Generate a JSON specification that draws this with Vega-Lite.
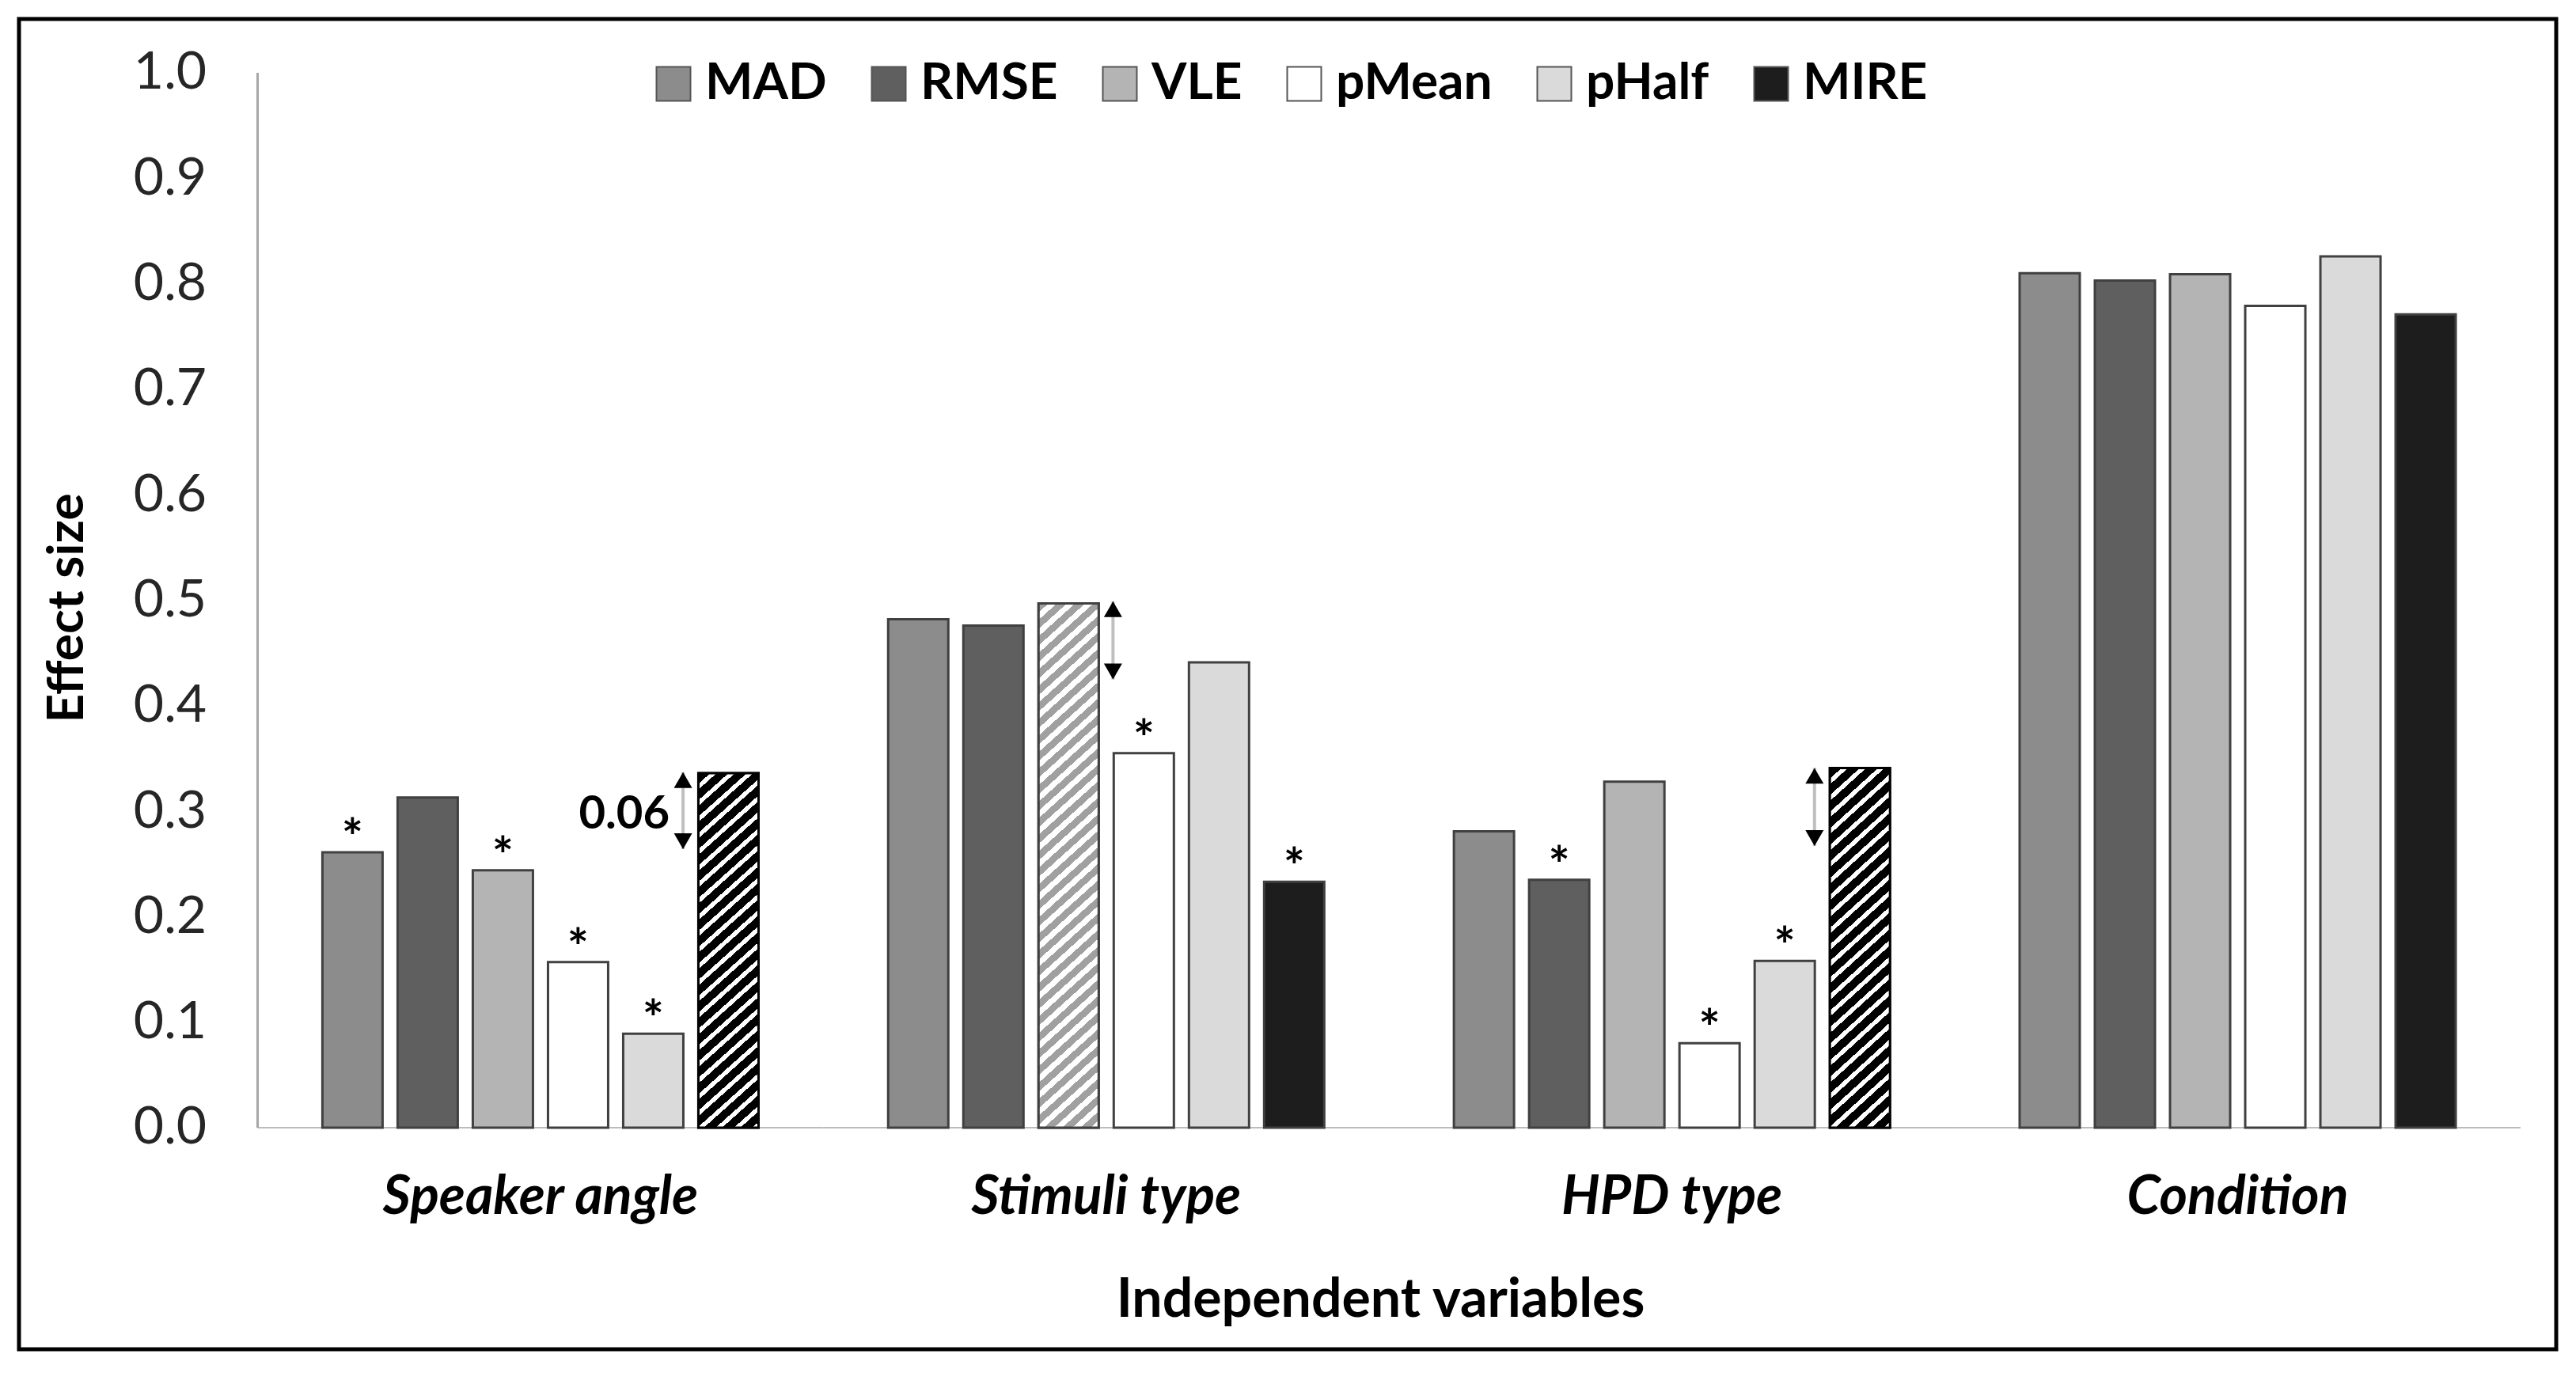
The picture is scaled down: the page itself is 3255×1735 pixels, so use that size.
{
  "$schema": "https://vega.github.io/schema/vega-lite/v6.json",
  "width": 3206,
  "height": 1681,
  "autosize": {"type": "none"},
  "padding": {"left": 24, "top": 24, "right": 25, "bottom": 30},
  "background": "white",
  "datasets": {
    "bars": [
      {"variable": "Speaker angle", "method": "MAD", "value": 0.261, "sig": true},
      {"variable": "Speaker angle", "method": "RMSE", "value": 0.313, "sig": false},
      {"variable": "Speaker angle", "method": "VLE", "value": 0.244, "sig": true},
      {"variable": "Speaker angle", "method": "pMean", "value": 0.157, "sig": true},
      {"variable": "Speaker angle", "method": "pHalf", "value": 0.089, "sig": true},
      {"variable": "Speaker angle", "method": "MIRE", "value": 0.336, "sig": false},
      {"variable": "Stimuli type", "method": "MAD", "value": 0.482, "sig": false},
      {"variable": "Stimuli type", "method": "RMSE", "value": 0.476, "sig": false},
      {"variable": "Stimuli type", "method": "VLE", "value": 0.497, "sig": false},
      {"variable": "Stimuli type", "method": "pMean", "value": 0.355, "sig": true},
      {"variable": "Stimuli type", "method": "pHalf", "value": 0.441, "sig": false},
      {"variable": "Stimuli type", "method": "MIRE", "value": 0.233, "sig": true},
      {"variable": "HPD type", "method": "MAD", "value": 0.281, "sig": false},
      {"variable": "HPD type", "method": "RMSE", "value": 0.235, "sig": true},
      {"variable": "HPD type", "method": "VLE", "value": 0.328, "sig": false},
      {"variable": "HPD type", "method": "pMean", "value": 0.080, "sig": true},
      {"variable": "HPD type", "method": "pHalf", "value": 0.158, "sig": true},
      {"variable": "HPD type", "method": "MIRE", "value": 0.341, "sig": false},
      {"variable": "Condition", "method": "MAD", "value": 0.810, "sig": false},
      {"variable": "Condition", "method": "RMSE", "value": 0.803, "sig": false},
      {"variable": "Condition", "method": "VLE", "value": 0.809, "sig": false},
      {"variable": "Condition", "method": "pMean", "value": 0.779, "sig": false},
      {"variable": "Condition", "method": "pHalf", "value": 0.826, "sig": false},
      {"variable": "Condition", "method": "MIRE", "value": 0.771, "sig": false}
    ],
    "arrows": [
      {"variable": "Speaker angle", "top": 0.337, "bottom": 0.264, "label": "0.06"},
      {"variable": "Stimuli type", "top": 0.499, "bottom": 0.425, "label": ""},
      {"variable": "HPD type", "top": 0.341, "bottom": 0.267, "label": ""}
    ]
  },
  "layer": [
    {
      "data": {"values": [{}]},
      "mark": {"type": "rule", "color": "#a6a6a6", "strokeWidth": 3},
      "encoding": {
        "x": {"datum": "Speaker angle", "type": "nominal", "bandPosition": 0},
        "y": {"datum": 0, "type": "quantitative"},
        "y2": {"datum": 1}
      }
    },
    {
      "data": {"name": "bars"},
      "transform": [{"aggregate": [{"op": "count", "as": "n"}], "groupby": ["variable"]}],
      "mark": {"type": "bar", "fill": "transparent", "stroke": "#a6a6a6", "strokeWidth": 1.5},
      "encoding": {
        "x": {"field": "variable", "type": "nominal"},
        "y": {"datum": 0, "type": "quantitative"},
        "y2": {"datum": 0}
      }
    },
    {
      "data": {"name": "bars"},
      "mark": {"type": "bar", "stroke": "#404040", "strokeWidth": 3},
      "encoding": {
        "x": {
          "field": "variable",
          "type": "nominal",
          "scale": {
            "domain": ["Speaker angle", "Stimuli type", "HPD type", "Condition"],
            "paddingInner": 0,
            "paddingOuter": 0.2424,
            "align": 0.87
          },
          "axis": {
            "orient": "bottom",
            "offset": -280,
            "domain": false,
            "ticks": false,
            "tickSize": 0,
            "labelPadding": 88,
            "labelAngle": 0,
            "labelAlign": "center",
            "labelLimit": 0,
            "labelFont": "Lato",
            "labelFontSize": 68,
            "labelFontWeight": "bold",
            "labelFontStyle": "italic",
            "labelColor": "#000000",
            "title": "Independent variables",
            "titleFont": "Lato",
            "titleFontSize": 68,
            "titleFontWeight": "bold",
            "titleColor": "#000000",
            "titleX": 1720,
            "titleY": 238,
            "titleAlign": "center",
            "titleBaseline": "alphabetic"
          }
        },
        "xOffset": {
          "field": "method",
          "type": "nominal",
          "scale": {
            "domain": ["MAD", "RMSE", "VLE", "pMean", "pHalf", "MIRE"],
            "paddingInner": 0.2,
            "paddingOuter": 0.862
          }
        },
        "y": {
          "field": "value",
          "type": "quantitative",
          "scale": {"domain": [-0.2101, 1.051], "nice": false, "zero": false},
          "axis": {
            "orient": "left",
            "offset": -301.5,
            "values": [0, 0.1, 0.2, 0.3, 0.4, 0.5, 0.6, 0.7, 0.8, 0.9, 1.0],
            "format": ".1f",
            "domain": false,
            "ticks": false,
            "tickSize": 0,
            "grid": false,
            "labelPadding": 65,
            "labelFont": "Lato",
            "labelFontSize": 66,
            "labelColor": "#262626",
            "title": "Effect size",
            "titleFont": "Lato",
            "titleFontSize": 64,
            "titleFontWeight": "bold",
            "titleColor": "#000000",
            "titleAngle": 270,
            "titleX": -221,
            "titleY": 744,
            "titleAlign": "center",
            "titleBaseline": "alphabetic"
          }
        },
        "y2": {"datum": 0},
        "color": {
          "field": "method",
          "type": "nominal",
          "scale": {
            "domain": ["MAD", "RMSE", "VLE", "pMean", "pHalf", "MIRE"],
            "range": ["#8c8c8c", "#5f5f5f", "#b4b4b4", "#ffffff", "#dadada", "#1d1d1d"]
          },
          "legend": {
            "orient": "none",
            "legendX": 795,
            "legendY": 50,
            "direction": "horizontal",
            "title": null,
            "padding": 0,
            "symbolType": "square",
            "symbolSize": 1849,
            "symbolStrokeColor": "#555555",
            "symbolStrokeWidth": 2,
            "symbolOpacity": 1,
            "labelFont": "Lato",
            "labelFontSize": 64,
            "labelFontWeight": "bold",
            "labelColor": "#000000",
            "labelLimit": 0,
            "labelOffset": 8,
            "columnPadding": 46
          }
        }
      }
    },
    {
      "data": {"name": "bars"},
      "transform": [{"filter": "datum.method == 'MIRE' && (datum.variable == 'Speaker angle' || datum.variable == 'HPD type')"}],
      "mark": {
        "type": "bar",
        "stroke": "#000000",
        "strokeWidth": 3,
        "fill": {
          "gradient": "linear",
          "x1": 0, "y1": 0, "x2": 0.171, "y2": 1.126,
          "stops": [
            {"offset": 0, "color": "#000000"}, {"offset": 0.026, "color": "#000000"}, {"offset": 0.026, "color": "#ffffff"}, {"offset": 0.04, "color": "#ffffff"},
            {"offset": 0.04, "color": "#000000"}, {"offset": 0.066, "color": "#000000"}, {"offset": 0.066, "color": "#ffffff"}, {"offset": 0.08, "color": "#ffffff"},
            {"offset": 0.08, "color": "#000000"}, {"offset": 0.106, "color": "#000000"}, {"offset": 0.106, "color": "#ffffff"}, {"offset": 0.12, "color": "#ffffff"},
            {"offset": 0.12, "color": "#000000"}, {"offset": 0.146, "color": "#000000"}, {"offset": 0.146, "color": "#ffffff"}, {"offset": 0.16, "color": "#ffffff"},
            {"offset": 0.16, "color": "#000000"}, {"offset": 0.186, "color": "#000000"}, {"offset": 0.186, "color": "#ffffff"}, {"offset": 0.2, "color": "#ffffff"},
            {"offset": 0.2, "color": "#000000"}, {"offset": 0.226, "color": "#000000"}, {"offset": 0.226, "color": "#ffffff"}, {"offset": 0.24, "color": "#ffffff"},
            {"offset": 0.24, "color": "#000000"}, {"offset": 0.266, "color": "#000000"}, {"offset": 0.266, "color": "#ffffff"}, {"offset": 0.28, "color": "#ffffff"},
            {"offset": 0.28, "color": "#000000"}, {"offset": 0.306, "color": "#000000"}, {"offset": 0.306, "color": "#ffffff"}, {"offset": 0.32, "color": "#ffffff"},
            {"offset": 0.32, "color": "#000000"}, {"offset": 0.346, "color": "#000000"}, {"offset": 0.346, "color": "#ffffff"}, {"offset": 0.36, "color": "#ffffff"},
            {"offset": 0.36, "color": "#000000"}, {"offset": 0.386, "color": "#000000"}, {"offset": 0.386, "color": "#ffffff"}, {"offset": 0.4, "color": "#ffffff"},
            {"offset": 0.4, "color": "#000000"}, {"offset": 0.426, "color": "#000000"}, {"offset": 0.426, "color": "#ffffff"}, {"offset": 0.44, "color": "#ffffff"},
            {"offset": 0.44, "color": "#000000"}, {"offset": 0.466, "color": "#000000"}, {"offset": 0.466, "color": "#ffffff"}, {"offset": 0.48, "color": "#ffffff"},
            {"offset": 0.48, "color": "#000000"}, {"offset": 0.506, "color": "#000000"}, {"offset": 0.506, "color": "#ffffff"}, {"offset": 0.52, "color": "#ffffff"},
            {"offset": 0.52, "color": "#000000"}, {"offset": 0.546, "color": "#000000"}, {"offset": 0.546, "color": "#ffffff"}, {"offset": 0.56, "color": "#ffffff"},
            {"offset": 0.56, "color": "#000000"}, {"offset": 0.586, "color": "#000000"}, {"offset": 0.586, "color": "#ffffff"}, {"offset": 0.6, "color": "#ffffff"},
            {"offset": 0.6, "color": "#000000"}, {"offset": 0.626, "color": "#000000"}, {"offset": 0.626, "color": "#ffffff"}, {"offset": 0.64, "color": "#ffffff"},
            {"offset": 0.64, "color": "#000000"}, {"offset": 0.666, "color": "#000000"}, {"offset": 0.666, "color": "#ffffff"}, {"offset": 0.68, "color": "#ffffff"},
            {"offset": 0.68, "color": "#000000"}, {"offset": 0.706, "color": "#000000"}, {"offset": 0.706, "color": "#ffffff"}, {"offset": 0.72, "color": "#ffffff"},
            {"offset": 0.72, "color": "#000000"}, {"offset": 0.746, "color": "#000000"}, {"offset": 0.746, "color": "#ffffff"}, {"offset": 0.76, "color": "#ffffff"},
            {"offset": 0.76, "color": "#000000"}, {"offset": 0.786, "color": "#000000"}, {"offset": 0.786, "color": "#ffffff"}, {"offset": 0.8, "color": "#ffffff"},
            {"offset": 0.8, "color": "#000000"}, {"offset": 0.826, "color": "#000000"}, {"offset": 0.826, "color": "#ffffff"}, {"offset": 0.84, "color": "#ffffff"},
            {"offset": 0.84, "color": "#000000"}, {"offset": 0.866, "color": "#000000"}, {"offset": 0.866, "color": "#ffffff"}, {"offset": 0.88, "color": "#ffffff"},
            {"offset": 0.88, "color": "#000000"}, {"offset": 0.906, "color": "#000000"}, {"offset": 0.906, "color": "#ffffff"}, {"offset": 0.92, "color": "#ffffff"},
            {"offset": 0.92, "color": "#000000"}, {"offset": 0.946, "color": "#000000"}, {"offset": 0.946, "color": "#ffffff"}, {"offset": 0.96, "color": "#ffffff"},
            {"offset": 0.96, "color": "#000000"}, {"offset": 0.986, "color": "#000000"}, {"offset": 0.986, "color": "#ffffff"}, {"offset": 1, "color": "#ffffff"}
          ]
        }
      },
      "encoding": {
        "x": {"field": "variable", "type": "nominal"},
        "xOffset": {"field": "method", "type": "nominal"},
        "y": {"field": "value", "type": "quantitative"},
        "y2": {"datum": 0}
      }
    },
    {
      "data": {"name": "bars"},
      "transform": [{"filter": "datum.method == 'VLE' && datum.variable == 'Stimuli type'"}],
      "mark": {
        "type": "bar",
        "stroke": "#404040",
        "strokeWidth": 3,
        "fill": {
          "gradient": "linear",
          "x1": 0, "y1": 0, "x2": 0.113, "y2": 1.092,
          "stops": [
            {"offset": 0, "color": "#a0a0a0"}, {"offset": 0.0157, "color": "#a0a0a0"}, {"offset": 0.0157, "color": "#ffffff"}, {"offset": 0.0286, "color": "#ffffff"},
            {"offset": 0.0286, "color": "#a0a0a0"}, {"offset": 0.0443, "color": "#a0a0a0"}, {"offset": 0.0443, "color": "#ffffff"}, {"offset": 0.0571, "color": "#ffffff"},
            {"offset": 0.0571, "color": "#a0a0a0"}, {"offset": 0.0729, "color": "#a0a0a0"}, {"offset": 0.0729, "color": "#ffffff"}, {"offset": 0.0857, "color": "#ffffff"},
            {"offset": 0.0857, "color": "#a0a0a0"}, {"offset": 0.1014, "color": "#a0a0a0"}, {"offset": 0.1014, "color": "#ffffff"}, {"offset": 0.1143, "color": "#ffffff"},
            {"offset": 0.1143, "color": "#a0a0a0"}, {"offset": 0.13, "color": "#a0a0a0"}, {"offset": 0.13, "color": "#ffffff"}, {"offset": 0.1429, "color": "#ffffff"},
            {"offset": 0.1429, "color": "#a0a0a0"}, {"offset": 0.1586, "color": "#a0a0a0"}, {"offset": 0.1586, "color": "#ffffff"}, {"offset": 0.1714, "color": "#ffffff"},
            {"offset": 0.1714, "color": "#a0a0a0"}, {"offset": 0.1871, "color": "#a0a0a0"}, {"offset": 0.1871, "color": "#ffffff"}, {"offset": 0.2, "color": "#ffffff"},
            {"offset": 0.2, "color": "#a0a0a0"}, {"offset": 0.2157, "color": "#a0a0a0"}, {"offset": 0.2157, "color": "#ffffff"}, {"offset": 0.2286, "color": "#ffffff"},
            {"offset": 0.2286, "color": "#a0a0a0"}, {"offset": 0.2443, "color": "#a0a0a0"}, {"offset": 0.2443, "color": "#ffffff"}, {"offset": 0.2571, "color": "#ffffff"},
            {"offset": 0.2571, "color": "#a0a0a0"}, {"offset": 0.2729, "color": "#a0a0a0"}, {"offset": 0.2729, "color": "#ffffff"}, {"offset": 0.2857, "color": "#ffffff"},
            {"offset": 0.2857, "color": "#a0a0a0"}, {"offset": 0.3014, "color": "#a0a0a0"}, {"offset": 0.3014, "color": "#ffffff"}, {"offset": 0.3143, "color": "#ffffff"},
            {"offset": 0.3143, "color": "#a0a0a0"}, {"offset": 0.33, "color": "#a0a0a0"}, {"offset": 0.33, "color": "#ffffff"}, {"offset": 0.3429, "color": "#ffffff"},
            {"offset": 0.3429, "color": "#a0a0a0"}, {"offset": 0.3586, "color": "#a0a0a0"}, {"offset": 0.3586, "color": "#ffffff"}, {"offset": 0.3714, "color": "#ffffff"},
            {"offset": 0.3714, "color": "#a0a0a0"}, {"offset": 0.3871, "color": "#a0a0a0"}, {"offset": 0.3871, "color": "#ffffff"}, {"offset": 0.4, "color": "#ffffff"},
            {"offset": 0.4, "color": "#a0a0a0"}, {"offset": 0.4157, "color": "#a0a0a0"}, {"offset": 0.4157, "color": "#ffffff"}, {"offset": 0.4286, "color": "#ffffff"},
            {"offset": 0.4286, "color": "#a0a0a0"}, {"offset": 0.4443, "color": "#a0a0a0"}, {"offset": 0.4443, "color": "#ffffff"}, {"offset": 0.4571, "color": "#ffffff"},
            {"offset": 0.4571, "color": "#a0a0a0"}, {"offset": 0.4729, "color": "#a0a0a0"}, {"offset": 0.4729, "color": "#ffffff"}, {"offset": 0.4857, "color": "#ffffff"},
            {"offset": 0.4857, "color": "#a0a0a0"}, {"offset": 0.5014, "color": "#a0a0a0"}, {"offset": 0.5014, "color": "#ffffff"}, {"offset": 0.5143, "color": "#ffffff"},
            {"offset": 0.5143, "color": "#a0a0a0"}, {"offset": 0.53, "color": "#a0a0a0"}, {"offset": 0.53, "color": "#ffffff"}, {"offset": 0.5429, "color": "#ffffff"},
            {"offset": 0.5429, "color": "#a0a0a0"}, {"offset": 0.5586, "color": "#a0a0a0"}, {"offset": 0.5586, "color": "#ffffff"}, {"offset": 0.5714, "color": "#ffffff"},
            {"offset": 0.5714, "color": "#a0a0a0"}, {"offset": 0.5871, "color": "#a0a0a0"}, {"offset": 0.5871, "color": "#ffffff"}, {"offset": 0.6, "color": "#ffffff"},
            {"offset": 0.6, "color": "#a0a0a0"}, {"offset": 0.6157, "color": "#a0a0a0"}, {"offset": 0.6157, "color": "#ffffff"}, {"offset": 0.6286, "color": "#ffffff"},
            {"offset": 0.6286, "color": "#a0a0a0"}, {"offset": 0.6443, "color": "#a0a0a0"}, {"offset": 0.6443, "color": "#ffffff"}, {"offset": 0.6571, "color": "#ffffff"},
            {"offset": 0.6571, "color": "#a0a0a0"}, {"offset": 0.6729, "color": "#a0a0a0"}, {"offset": 0.6729, "color": "#ffffff"}, {"offset": 0.6857, "color": "#ffffff"},
            {"offset": 0.6857, "color": "#a0a0a0"}, {"offset": 0.7014, "color": "#a0a0a0"}, {"offset": 0.7014, "color": "#ffffff"}, {"offset": 0.7143, "color": "#ffffff"},
            {"offset": 0.7143, "color": "#a0a0a0"}, {"offset": 0.73, "color": "#a0a0a0"}, {"offset": 0.73, "color": "#ffffff"}, {"offset": 0.7429, "color": "#ffffff"},
            {"offset": 0.7429, "color": "#a0a0a0"}, {"offset": 0.7586, "color": "#a0a0a0"}, {"offset": 0.7586, "color": "#ffffff"}, {"offset": 0.7714, "color": "#ffffff"},
            {"offset": 0.7714, "color": "#a0a0a0"}, {"offset": 0.7871, "color": "#a0a0a0"}, {"offset": 0.7871, "color": "#ffffff"}, {"offset": 0.8, "color": "#ffffff"},
            {"offset": 0.8, "color": "#a0a0a0"}, {"offset": 0.8157, "color": "#a0a0a0"}, {"offset": 0.8157, "color": "#ffffff"}, {"offset": 0.8286, "color": "#ffffff"},
            {"offset": 0.8286, "color": "#a0a0a0"}, {"offset": 0.8443, "color": "#a0a0a0"}, {"offset": 0.8443, "color": "#ffffff"}, {"offset": 0.8571, "color": "#ffffff"},
            {"offset": 0.8571, "color": "#a0a0a0"}, {"offset": 0.8729, "color": "#a0a0a0"}, {"offset": 0.8729, "color": "#ffffff"}, {"offset": 0.8857, "color": "#ffffff"},
            {"offset": 0.8857, "color": "#a0a0a0"}, {"offset": 0.9014, "color": "#a0a0a0"}, {"offset": 0.9014, "color": "#ffffff"}, {"offset": 0.9143, "color": "#ffffff"},
            {"offset": 0.9143, "color": "#a0a0a0"}, {"offset": 0.93, "color": "#a0a0a0"}, {"offset": 0.93, "color": "#ffffff"}, {"offset": 0.9429, "color": "#ffffff"},
            {"offset": 0.9429, "color": "#a0a0a0"}, {"offset": 0.9586, "color": "#a0a0a0"}, {"offset": 0.9586, "color": "#ffffff"}, {"offset": 0.9714, "color": "#ffffff"},
            {"offset": 0.9714, "color": "#a0a0a0"}, {"offset": 0.9871, "color": "#a0a0a0"}, {"offset": 0.9871, "color": "#ffffff"}, {"offset": 1, "color": "#ffffff"}
          ]
        }
      },
      "encoding": {
        "x": {"field": "variable", "type": "nominal"},
        "xOffset": {"field": "method", "type": "nominal"},
        "y": {"field": "value", "type": "quantitative"},
        "y2": {"datum": 0}
      }
    },
    {
      "data": {"name": "bars"},
      "transform": [{"filter": "datum.sig"}],
      "mark": {"type": "text", "text": "*", "font": "Lato", "fontSize": 64, "fontWeight": "bold", "baseline": "alphabetic", "dy": 4, "color": "#000000"},
      "encoding": {
        "x": {"field": "variable", "type": "nominal"},
        "xOffset": {"field": "method", "type": "nominal"},
        "y": {"field": "value", "type": "quantitative"}
      }
    },
    {
      "data": {"name": "arrows"},
      "transform": [{"filter": "datum.variable != 'Stimuli type'"}],
      "encoding": {"x": {"field": "variable", "type": "nominal", "bandPosition": 0.752}},
      "layer": [
        {
          "mark": {"type": "rule", "color": "#bfbfbf", "strokeWidth": 4},
          "encoding": {"y": {"field": "top", "type": "quantitative"}, "y2": {"field": "bottom"}}
        },
        {
          "mark": {"type": "point", "shape": "triangle-up", "filled": true, "color": "#000000", "opacity": 1, "size": 529, "yOffset": 10},
          "encoding": {"y": {"field": "top", "type": "quantitative"}}
        },
        {
          "mark": {"type": "point", "shape": "triangle-down", "filled": true, "color": "#000000", "opacity": 1, "size": 529, "yOffset": -10},
          "encoding": {"y": {"field": "bottom", "type": "quantitative"}}
        },
        {
          "transform": [{"filter": "datum.label != ''"}],
          "mark": {"type": "text", "font": "Lato", "align": "right", "baseline": "alphabetic", "dx": -17, "dy": 71, "fontSize": 58, "fontWeight": "bold", "color": "#000000"},
          "encoding": {"y": {"field": "top", "type": "quantitative"}, "text": {"field": "label"}}
        }
      ]
    },
    {
      "data": {"name": "arrows"},
      "transform": [{"filter": "datum.variable == 'Stimuli type'"}],
      "encoding": {"x": {"field": "variable", "type": "nominal", "bandPosition": 0.512}},
      "layer": [
        {
          "mark": {"type": "rule", "color": "#bfbfbf", "strokeWidth": 4},
          "encoding": {"y": {"field": "top", "type": "quantitative"}, "y2": {"field": "bottom"}}
        },
        {
          "mark": {"type": "point", "shape": "triangle-up", "filled": true, "color": "#000000", "opacity": 1, "size": 529, "yOffset": 10},
          "encoding": {"y": {"field": "top", "type": "quantitative"}}
        },
        {
          "mark": {"type": "point", "shape": "triangle-down", "filled": true, "color": "#000000", "opacity": 1, "size": 529, "yOffset": -10},
          "encoding": {"y": {"field": "bottom", "type": "quantitative"}}
        }
      ]
    }
  ],
  "config": {
    "font": "Lato",
    "view": {"stroke": "#000000", "strokeWidth": 5},
    "axis": {"grid": false}
  }
}
